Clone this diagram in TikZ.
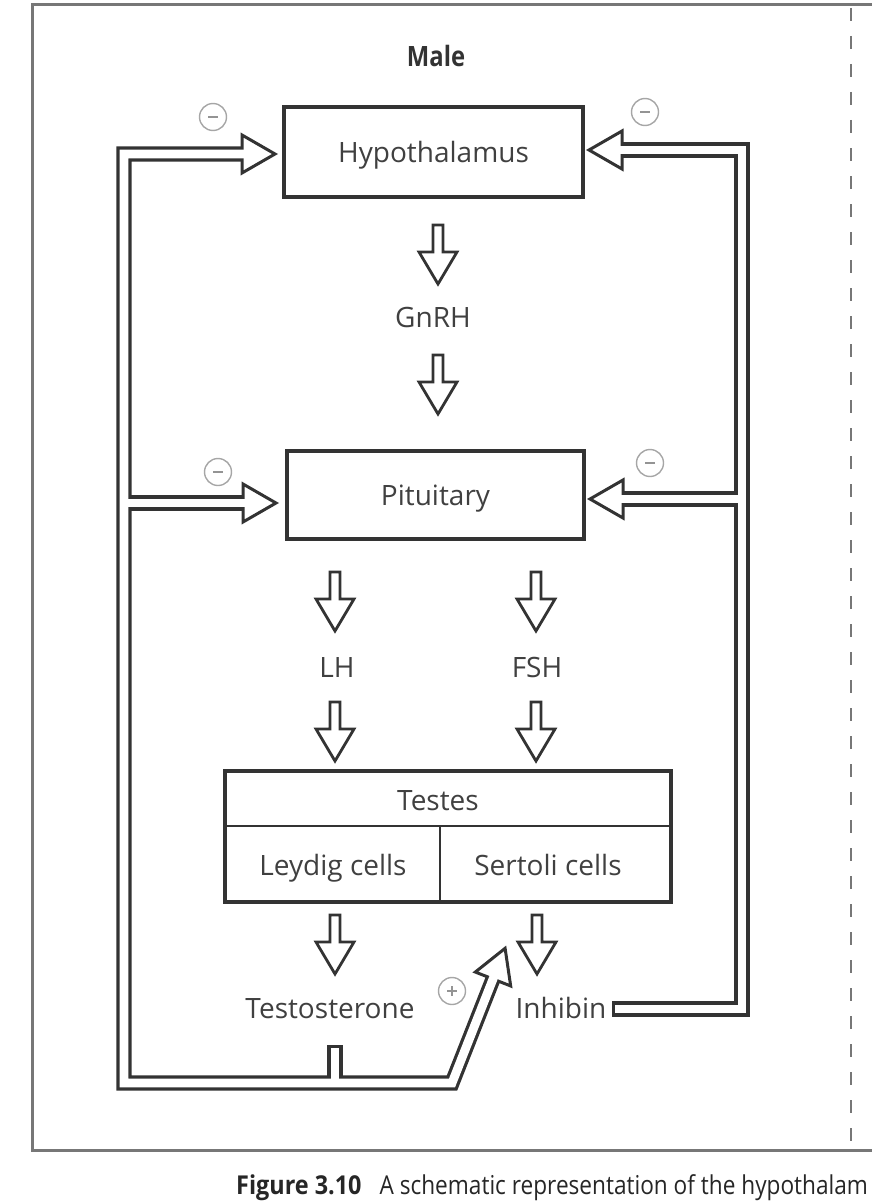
\documentclass[tikz,border=0pt]{standalone}
\usepackage{fontspec}
\setmainfont{Open Sans}
\newfontfamily\capfont[FakeStretch=0.87]{Open Sans}
\newfontfamily\capboldfont[FakeStretch=0.9]{Open Sans}
\newfontfamily\malefont[FakeStretch=0.85]{Open Sans}
\usetikzlibrary{calc}
\definecolor{ink}{HTML}{333333}
\definecolor{txt}{HTML}{404040}
\definecolor{framec}{HTML}{777777}
\definecolor{faint}{HTML}{A6A6A6}
\tikzset{
  lbl/.style={text=txt, font=\fontsize{28}{30}\selectfont, inner sep=0pt, text height=20pt, text depth=0pt},
  boxnode/.style={lbl, draw=ink, line width=3.2pt},
  railout/.style={draw=ink, line width=15.2pt, line join=miter},
  railin/.style={draw=white, line width=8.8pt, line join=miter},
  headstyle/.style={draw=ink, fill=white, line width=3pt, line join=miter},
  blockstyle/.style={draw=ink, fill=white, line width=2.8pt, line join=miter},
  sign/.style={circle, draw=faint, line width=1.4pt, minimum size=27pt, inner sep=0pt},
  signbar/.style={draw=faint!120, line width=1.9pt},
  blockdown/.pic={\draw[blockstyle] (-5,0) -- (-5,27) -- (-19,27) -- (0,59) -- (19,27) -- (5,27) -- (5,0) -- cycle;},
  headtri/.pic={\draw[headstyle] (0,-19) -- (33,0) -- (0,19) -- cycle;}
}
\begin{document}
\begin{tikzpicture}[x=1pt,y=-1pt]
\useasboundingbox (0,0) rectangle (872,1204);
\clip (0,0) rectangle (872,1204);

% frame
\draw[framec, line width=3pt] (872,5) -- (32,5) -- (32,1150) -- (872,1150);
\draw[framec, line width=2pt, dash pattern=on 13pt off 15pt] (851,8) -- (851,1150);

% title
\node[text=txt!80!black, font=\malefont\bfseries\fontsize{28}{29}\selectfont, inner sep=0pt, text height=20pt, text depth=0pt] (male) at (436,57) {Male};

% boxes
\node[boxnode, minimum width=299pt, minimum height=90pt] (hyp) at (433.5,152) {Hypothalamus};
\node[boxnode, minimum width=297pt, minimum height=88pt] (pit) at (435.5,495) {Pituitary};
\node[draw=ink, line width=3.2pt, minimum width=446pt, minimum height=131pt, inner sep=0pt] (testes) at (448,836.5) {};
\draw[ink, line width=2.2pt] (testes.west |- 0,826) -- (testes.east |- 0,826);
\draw[ink, line width=2.2pt] (440,826) -- (440,902);

% labels
\node[lbl] (gnrh) at (433,317) {GnRH};
\node[lbl] (lh) at (337,667) {LH};
\node[lbl] (fsh) at (537,667) {FSH};
\node[lbl] (testeslbl) at (438,800) {Testes};
\node[lbl] (leydig) at (333,865) {Leydig cells};
\node[lbl] (sertoli) at (548,865) {Sertoli cells};
\node[lbl] (testo) at (330,1008) {Testosterone};
\node[lbl] (inhib) at (561,1008) {Inhibin};

% down block arrows
\pic at (438,225) {blockdown};
\pic at (438,355) {blockdown};
\pic at (335,572) {blockdown};
\pic at (536,572) {blockdown};
\pic at (335,702) {blockdown};
\pic at (536,702) {blockdown};
\pic at (335,915) {blockdown};
\pic at (537,915) {blockdown};

% feedback network coordinates
\coordinate (hLb) at (242,154);
\coordinate (pLb) at (243,503);
\coordinate (hRb) at (622,150);
\coordinate (pRb) at (623,499);
\coordinate (dgb) at (493,979);
\coordinate (tl) at (124,154);
\coordinate (lj) at (124,503);
\coordinate (bl) at (124,1083);
\coordinate (br) at (452,1083);
\coordinate (stubtop) at (335,1045);
\coordinate (stubbot) at (335,1083);
\coordinate (tr) at (742,150);
\coordinate (rj) at (742,499);
\coordinate (rb) at (742,1009);
\coordinate (inhend) at (612,1009);

% black pass
\draw[railout] (hLb) -- (tl) -- (bl) -- (br) -- (dgb);
\draw[railout] (lj) -- (pLb);
\draw[railout] (stubtop) -- (stubbot);
\draw[railout] (hRb) -- (tr) -- (rb) -- (inhend);
\draw[railout] (rj) -- (pRb);

% heads
\pic at (hLb) {headtri};
\pic at (pLb) {headtri};
\pic[rotate=180] at (hRb) {headtri};
\pic[rotate=180] at (pRb) {headtri};
\pic[rotate=68.5] at (dgb) {headtri};

% white pass
\draw[railin, shorten <=-4pt, shorten >=-4pt] (hLb) -- (tl) -- (bl) -- (br) -- (dgb);
\draw[railin, shorten >=-4pt] (lj) -- (pLb);
\draw[railin, shorten <=3.2pt] (stubtop) -- (stubbot);
\draw[railin, shorten <=-4pt, shorten >=3.2pt] (hRb) -- (tr) -- (rb) -- (inhend);
\draw[railin, shorten >=-4pt] (rj) -- (pRb);

% signs
\node[sign] (m1) at (213,117) {};
\node[sign] (m2) at (645,112) {};
\node[sign] (m3) at (218,472) {};
\node[sign] (m4) at (650,463) {};
\node[sign] (p1) at (452,991) {};
\foreach \s in {m1,m2,m3,m4,p1} {\draw[signbar] ($(\s)+(-5,0)$) -- ($(\s)+(5,0)$);}
\draw[signbar] ($(p1)+(0,-5)$) -- ($(p1)+(0,5)$);

% caption
\node[anchor=base west, inner sep=0pt, text=black!85, font=\capfont\fontsize{26}{28}\selectfont] (cap) at (236,1194) {{\capboldfont\bfseries Figure 3.10}\hspace{18pt}A schematic representation of the hypothalam};
\end{tikzpicture}
\end{document}
